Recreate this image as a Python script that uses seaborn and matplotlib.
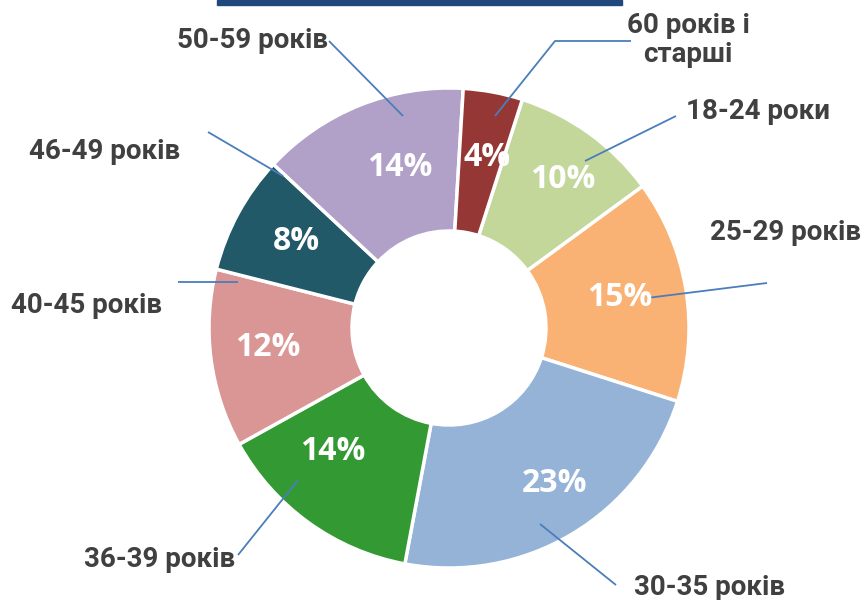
import matplotlib
matplotlib.use("Agg")
import matplotlib.pyplot as plt
import seaborn as sns
from matplotlib.patches import Rectangle

# ---- data ----
categories = ["18-24 роки", "25-29 років", "30-35 років", "36-39 років",
              "40-45 років", "46-49 років", "50-59 років", "60 років і\nстарші"]
shares = [10, 15, 23, 14, 12, 8, 14, 4]
colors = ["#C4D79B", "#FAB174", "#95B3D7", "#339933",
          "#DA9694", "#215968", "#B1A0C7", "#953735"]

sns.set_theme(style="white")
palette = sns.color_palette(colors)

W, H = 865, 600
fig = plt.figure(figsize=(W / 100, H / 100), dpi=100)
ax = fig.add_axes([0, 0, 1, 1])
ax.set_xlim(0, W)
ax.set_ylim(0, H)
ax.axis("off")

def Y(y):  # pixel-from-top -> data y
    return H - y

cx, cy, R, r_hole = 449, 328, 240, 97

wedges, _, autotexts = ax.pie(
    shares, colors=palette, radius=R, center=(cx, Y(cy)),
    startangle=72.2, counterclock=False,
    autopct=lambda p: f"{p:.0f}%", pctdistance=0.74,
    wedgeprops=dict(width=R - r_hole, edgecolor="white", linewidth=2.5),
    textprops=dict(color="white", fontsize=23, fontweight="bold",
                   family=["Open Sans", "DejaVu Sans"]),
)
ax.set_xlim(0, W)
ax.set_ylim(0, H)
ax.set_aspect("equal")

# percent label placement (pixels, centre of text)
pct_pos = [(563, 180), (620, 298), (555, 483), (333, 452),
           (268, 348), (296, 241), (400, 168), (487, 157)]
for t, (px, py) in zip(autotexts, pct_pos):
    t.set_position((px, Y(py)))

# ---- outer labels with leader lines (layout in pixels) ----
label_layout = {
    "18-24 роки":  dict(txt=(686, 119), ha="left",   line=[(585, 161), (676, 116)]),
    "25-29 років": dict(txt=(710, 240), ha="left",   line=[(647, 298), (767, 283)]),
    "30-35 років": dict(txt=(634, 595), ha="left",   line=[(540, 524), (616, 585)]),
    "36-39 років": dict(txt=(84, 567),  ha="left",   line=[(298, 480), (238, 555)]),
    "40-45 років": dict(txt=(11, 313),  ha="left",   line=[(238, 282), (178, 282)]),
    "46-49 років": dict(txt=(29, 159),  ha="left",   line=[(283, 176), (208, 132)]),
    "50-59 років": dict(txt=(177, 48),  ha="left",   line=[(403, 116), (329, 41)]),
    "60 років і\nстарші": dict(txt=(688, 62), ha="center", line=[(495, 116), (555, 41), (631, 41)]),
}
for cat in categories:
    L = label_layout[cat]
    xs = [p[0] for p in L["line"]]
    ys = [Y(p[1]) for p in L["line"]]
    ax.plot(xs, ys, color="#4A7EBB", lw=1.3, solid_capstyle="butt")
    ax.text(L["txt"][0], Y(L["txt"][1]), cat, ha=L["ha"], va="baseline",
            multialignment="center", linespacing=1.1,
            fontsize=20, fontweight="bold", color="#404040",
            family=["Roboto", "DejaVu Sans"])

# cut-off title bar at the top
fig.patches.append(Rectangle((217 / W, 1 - 5 / H), (622 - 217) / W, 5 / H,
                             transform=fig.transFigure, color="#1F497D", zorder=5))

fig.savefig("out.png", dpi=100, facecolor="white")
